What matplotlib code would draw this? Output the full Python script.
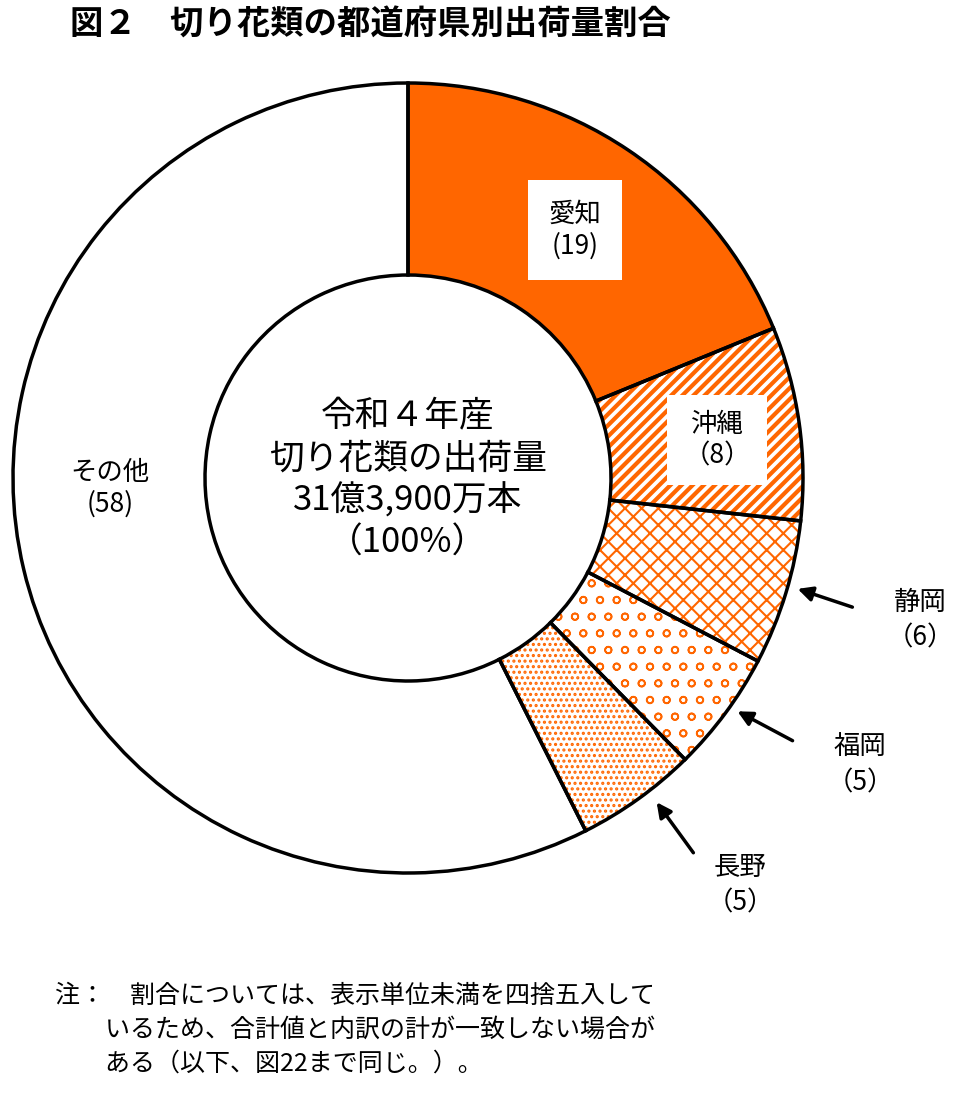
import matplotlib.pyplot as plt

plt.rcParams['font.family'] = 'Noto Sans CJK JP'
plt.rcParams['hatch.linewidth'] = 2.5

prefs = ['愛知', '沖縄', '静岡', '福岡', '長野', 'その他']
shares = [19, 8, 6, 5, 5, 58]
hatches = ['', '///', 'xx', 'o', '...', '']
hatch_lw = [1, 3, 1.5, 1.2, 1.5, 1]
faces = ['#ff6600', 'white', 'white', 'white', 'white', 'white']
ORANGE = '#ff6600'

W, H = 960, 1093
cx, cy = 408, H - 478
R, width = 395, 192

fig = plt.figure(figsize=(9.6, 10.93), dpi=100)
ax = fig.add_axes([0, 0, 1, 1])

wedges, _ = ax.pie(shares, center=(cx, cy), radius=R, startangle=90,
                   counterclock=False, colors=faces,
                   wedgeprops=dict(width=width, edgecolor=ORANGE, linewidth=0))
for w, h, lw in zip(wedges, hatches, hatch_lw):
    w.set_hatch(h)
    if hasattr(w, 'set_hatch_linewidth'):
        w.set_hatch_linewidth(lw)
ax.pie(shares, center=(cx, cy), radius=R, startangle=90, counterclock=False,
       wedgeprops=dict(width=width, fill=False, edgecolor='black', linewidth=2.5))
ax.set_xlim(0, W)
ax.set_ylim(0, H)
ax.set_aspect('equal')
ax.axis('off')

box = dict(boxstyle='square,pad=0.6', fc='white', ec='none')
ax.text(575, H - 230, f'{prefs[0]}\n({shares[0]})', ha='center', va='center',
        fontsize=19, bbox=dict(boxstyle='square,pad=0.8', fc='white', ec='none'))
ax.text(717, H - 440, f'{prefs[1]}\n（{shares[1]}）', ha='center', va='center',
        fontsize=19, bbox=box)
ax.text(110, H - 488, f'{prefs[5]}\n({shares[5]})', ha='center', va='center', fontsize=19)

ax.text(cx, H - 480, '令和４年産\n切り花類の出荷量\n31億3,900万本\n（100%）',
        ha='center', va='center', fontsize=25, linespacing=1.25)

arrows = [(2, (795, H - 588), (855, H - 608), (920, H - 620)),
          (3, (735, H - 710), (795, H - 742), (860, H - 765)),
          (4, (655, H - 800), (695, H - 855), (740, H - 885))]
for i, tip, tail, lab in arrows:
    ax.annotate('', xy=tip, xytext=tail,
                arrowprops=dict(arrowstyle='-|>', color='black', lw=2.5, mutation_scale=22))
    ax.text(lab[0], lab[1], f'{prefs[i]}\n（{shares[i]}）', ha='center', va='center',
            fontsize=19, linespacing=1.4)

ax.text(70, H - 25, '図２　切り花類の都道府県別出荷量割合', fontsize=24,
        fontweight='bold', va='center', ha='left')
ax.text(55, H - 1030, '注：　割合については、表示単位未満を四捨五入して\n'
        '　　いるため、合計値と内訳の計が一致しない場合が\n'
        '　　ある（以下、図22まで同じ。）。', fontsize=18, va='center', ha='left',
        linespacing=1.4)

fig.savefig('out.png', dpi=100)
